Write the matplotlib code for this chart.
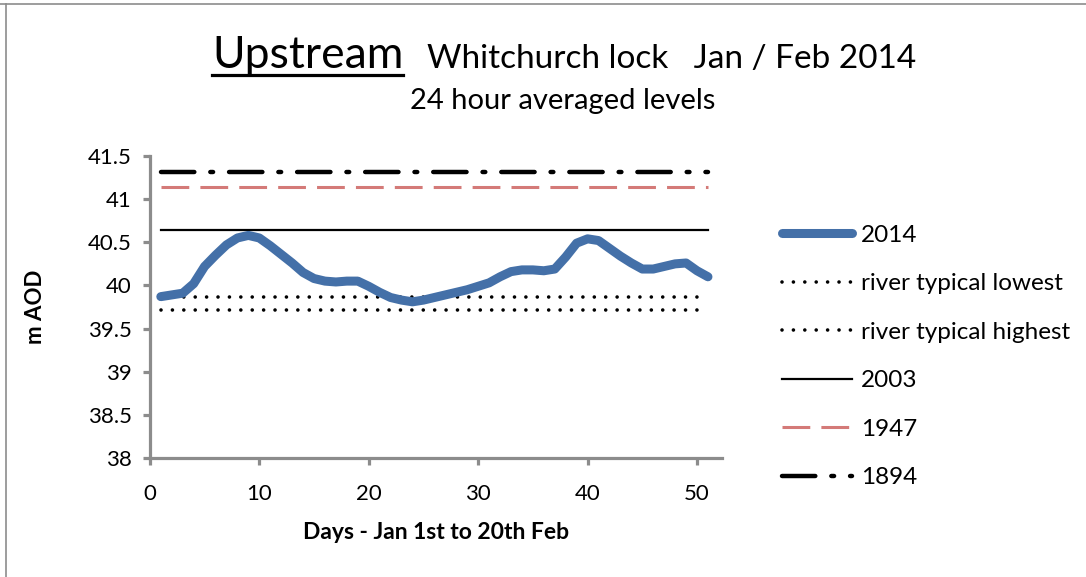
import matplotlib
matplotlib.use("Agg")
import matplotlib.pyplot as plt
from matplotlib.lines import Line2D

plt.rcParams['font.family'] = ['Lato', 'DejaVu Sans']
plt.rcParams['lines.scale_dashes'] = False

# Data #
days = list(range(1, 52))
level_2014 = [39.87, 39.89, 39.91, 40.02, 40.22, 40.35, 40.47, 40.55, 40.58, 40.55,
              40.46, 40.36, 40.26, 40.15, 40.08, 40.05, 40.04, 40.05, 40.05, 39.99,
              39.92, 39.86, 39.83, 39.81, 39.83, 39.86, 39.89, 39.92, 39.95, 39.99,
              40.03, 40.10, 40.16, 40.18, 40.18, 40.17, 40.19, 40.33, 40.49, 40.54,
              40.52, 40.43, 40.34, 40.26, 40.19, 40.19, 40.22, 40.25, 40.26, 40.17,
              40.10]
typical_lowest = 39.87
typical_highest = 39.72
flood_2003 = 40.64
flood_1947 = 41.14
flood_1894 = 41.32

x_ticks = [0, 10, 20, 30, 40, 50]
y_ticks = [38, 38.5, 39, 39.5, 40, 40.5, 41, 41.5]
y_tick_labels = ['38', '38.5', '39', '39.5', '40', '40.5', '41', '41.5']

# Figure setup #
fig = plt.figure(figsize=(10.86, 5.77), dpi=100)
ax = fig.add_axes([0.138, 0.2063, 0.527, 0.5233])

axis_grey = '#8c8c8c'

ax.plot(days, level_2014, color='#4470a8', lw=6.5, solid_capstyle='round',
        solid_joinstyle='round', label='2014', zorder=5)
ax.plot([days[0], days[-1]], [typical_lowest] * 2, color='black', lw=2.6,
        dashes=(0.01, 8.2), dash_capstyle='round', label='river typical lowest')
ax.plot([days[0], days[-1]], [typical_highest] * 2, color='black', lw=2.6,
        dashes=(0.01, 8.2), dash_capstyle='round', label='river typical highest')
ax.plot([days[0], days[-1]], [flood_2003] * 2, color='black', lw=1.6, label='2003')
ax.plot([days[0], days[-1]], [flood_1947] * 2, color='#d47a78', lw=2.2,
        dashes=(20, 8), label='1947')
ax.plot([days[0], days[-1]], [flood_1894] * 2, color='black', lw=3.2,
        dashes=(24, 11.5, 2, 11.5), dash_capstyle='round', label='1894')

ax.set_xlim(0, 52.3)
ax.set_ylim(38, 41.5)
ax.set_xticks(x_ticks)
ax.set_yticks(y_ticks)
ax.set_yticklabels(y_tick_labels)

for side in ['top', 'right']:
    ax.spines[side].set_visible(False)
for side in ['left', 'bottom']:
    ax.spines[side].set_color(axis_grey)
    ax.spines[side].set_linewidth(2.3)
ax.tick_params(axis='both', direction='out', length=5, width=2.3, color=axis_grey,
               labelsize=16, pad=8)
ax.tick_params(axis='x', pad=14)

ax.set_ylabel('m AOD', fontsize=16, fontweight='bold', labelpad=30)
ax.set_xlabel('Days - Jan 1st to 20th Feb', fontsize=16.5, fontweight='bold', labelpad=13)

# Titles #
title_y = 1 - 68 / 577
t1 = fig.text(212 / 1086, title_y, 'Upstream', fontsize=32, va='baseline', ha='left')
fig.text(427 / 1086, title_y, 'Whitchurch lock   Jan / Feb 2014', fontsize=24,
         va='baseline', ha='left')
fig.text(563 / 1086, 1 - 109 / 577, '24 hour averaged levels', fontsize=21,
         va='baseline', ha='center')

# Legend #
fig.legend(loc='upper left', bbox_to_anchor=(772 / 1086, 1 - 215 / 577), frameon=False,
           fontsize=17.5, handlelength=2.9, handletextpad=0.35, labelspacing=1.13,
           borderaxespad=0)

# Underline under "Upstream" and outer border #
fig.canvas.draw()
bb = t1.get_window_extent().transformed(fig.transFigure.inverted())
uy = 1 - 75 / 577
fig.add_artist(Line2D([bb.x0, bb.x1], [uy, uy], color='black', lw=2.3,
                      transform=fig.transFigure))
fig.add_artist(Line2D([0, 1], [1 - 4 / 577, 1 - 4 / 577], color='#8c8c8c', lw=1.2,
                      transform=fig.transFigure))
fig.add_artist(Line2D([6 / 1086, 6 / 1086], [0, 1 - 4 / 577], color='#8c8c8c', lw=1.2,
                      transform=fig.transFigure))

fig.savefig('out.png', dpi=100)
